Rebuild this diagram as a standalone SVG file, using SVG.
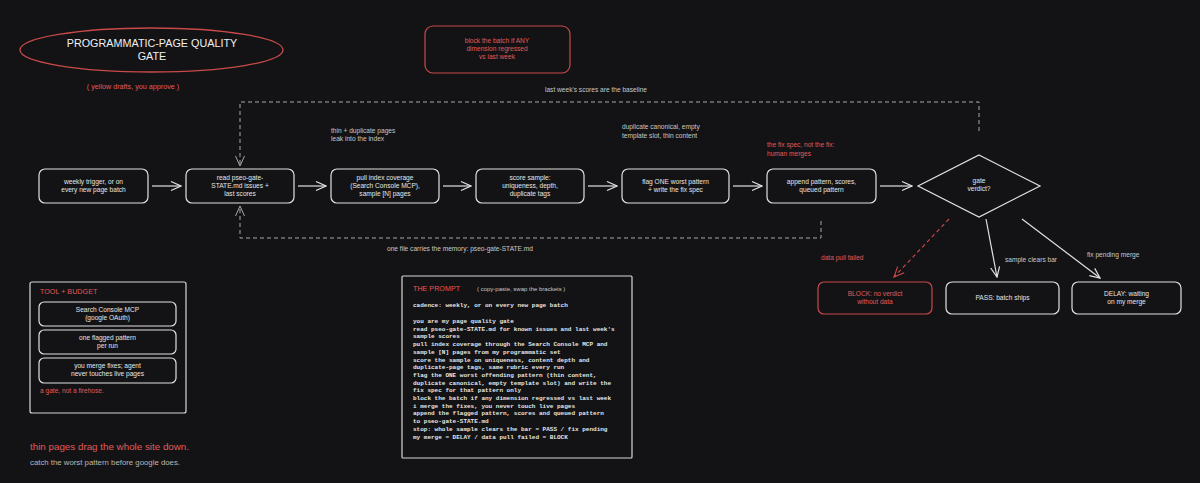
<svg xmlns="http://www.w3.org/2000/svg" width="1200" height="483" viewBox="0 0 1200 483">
<style>
.bg{fill:#131315}
.node{fill:#131315;stroke:#e2e2e2;stroke-width:1.2}
.rnode{fill:#131315;stroke:#c94a4a;stroke-width:1.2}
.t{font-family:"Liberation Sans",Arial,sans-serif;font-size:6.6px;fill:#e6e6e6;text-anchor:middle}
.rt{font-family:"Liberation Sans",Arial,sans-serif;font-size:6.6px;fill:#e05a5a;text-anchor:middle}
.ann{font-family:"Liberation Sans",Arial,sans-serif;font-size:6.6px;fill:#c8c8c8}
.rann{font-family:"Liberation Sans",Arial,sans-serif;font-size:6.6px;fill:#e05a5a}
.mono{font-family:"Liberation Mono","DejaVu Sans Mono",monospace;font-size:6px;fill:#e6e6e6;font-weight:bold}
.arr{fill:none;stroke:#e2e2e2;stroke-width:1.2;marker-end:url(#ah)}
.dash{fill:none;stroke:#a8a8a8;stroke-width:1;stroke-dasharray:4 3}
</style>
<defs>
<marker id="ah" viewBox="0 0 12 12" refX="11" refY="6" markerWidth="12" markerHeight="12" markerUnits="userSpaceOnUse" orient="auto">
<polyline points="1,1.5 11,6 1,10.5" fill="none" stroke="#e2e2e2" stroke-width="1.2"/>
</marker>
<marker id="ahg" viewBox="0 0 12 12" refX="11" refY="6" markerWidth="12" markerHeight="12" markerUnits="userSpaceOnUse" orient="auto">
<polyline points="1,1.5 11,6 1,10.5" fill="none" stroke="#a8a8a8" stroke-width="1"/>
</marker>
<marker id="ahr" viewBox="0 0 12 12" refX="11" refY="6" markerWidth="12" markerHeight="12" markerUnits="userSpaceOnUse" orient="auto">
<polyline points="1,1.5 11,6 1,10.5" fill="none" stroke="#c94a4a" stroke-width="1.1"/>
</marker>
</defs>
<rect class="bg" x="0" y="0" width="1200" height="483"/>

<g id="title">
<ellipse cx="151.5" cy="50" rx="131.5" ry="22" fill="none" stroke="#c94a4a" stroke-width="1.3"/>
<text x="152" y="47" style="font-family:'Liberation Sans',Arial,sans-serif;font-size:10.8px;fill:#f0f0f0;text-anchor:middle">PROGRAMMATIC-PAGE QUALITY</text>
<text x="152" y="60" style="font-family:'Liberation Sans',Arial,sans-serif;font-size:10.8px;fill:#f0f0f0;text-anchor:middle">GATE</text>
<text x="133" y="89" class="rt" style="font-size:7.2px">( yellow drafts, you approve )</text>
</g>

<g id="note-block">
<rect class="rnode" x="425" y="26" width="145" height="47" rx="8"/>
<text class="rt" x="497" y="43">block the batch if ANY</text>
<text class="rt" x="497" y="51">dimension regressed</text>
<text class="rt" x="497" y="59">vs last week</text>
</g>

<g id="connectors">
<path class="dash" d="M979,131 V102 H240 V166" marker-end="url(#ahg)"/>
<path class="dash" d="M821,221 V238 H240 V206" marker-end="url(#ahg)"/>
<line class="arr" x1="152" y1="186" x2="181" y2="186"/>
<line class="arr" x1="298" y1="186" x2="326" y2="186"/>
<line class="arr" x1="443" y1="186" x2="471" y2="186"/>
<line class="arr" x1="588" y1="186" x2="617" y2="186"/>
<line class="arr" x1="733" y1="186" x2="762" y2="186"/>
<line class="arr" x1="880" y1="186" x2="912" y2="186"/>
<line x1="949" y1="219" x2="894" y2="277" fill="none" stroke="#c94a4a" stroke-width="1.1" stroke-dasharray="4 3" marker-end="url(#ahr)"/>
<line class="arr" x1="986" y1="219" x2="997" y2="277"/>
<line class="arr" x1="1022" y1="219" x2="1100" y2="278"/>
</g>

<g id="labels">
<text class="ann" x="596" y="92" text-anchor="middle">last week's scores are the baseline</text>
<text class="ann" x="331" y="133">thin + duplicate pages</text>
<text class="ann" x="331" y="141">leak into the index</text>
<text class="ann" x="622" y="129">duplicate canonical, empty</text>
<text class="ann" x="622" y="138">template slot, thin content</text>
<text class="rann" x="767" y="147">the fix spec, not the fix:</text>
<text class="rann" x="767" y="156">human merges</text>
<text class="ann" x="460" y="251" text-anchor="middle">one file carries the memory: pseo-gate-STATE.md</text>
<text class="rann" x="821" y="260">data pull failed</text>
<text class="ann" x="1005" y="262">sample clears bar</text>
<text class="ann" x="1087" y="257">fix pending merge</text>
</g>

<g id="n-trigger">
<rect class="node" x="39" y="169" width="109" height="34" rx="6"/>
<text class="t" x="93.5" y="184">weekly trigger, or on</text>
<text class="t" x="93.5" y="192">every new page batch</text>
</g>
<g id="n-read">
<rect class="node" x="186" y="169" width="108" height="34" rx="6"/>
<text class="t" x="240" y="180">read pseo-gate-</text>
<text class="t" x="240" y="188">STATE.md issues +</text>
<text class="t" x="240" y="196">last scores</text>
</g>
<g id="n-pull">
<rect class="node" x="331" y="169" width="108" height="34" rx="6"/>
<text class="t" x="385" y="180">pull index coverage</text>
<text class="t" x="385" y="188">(Search Console MCP),</text>
<text class="t" x="385" y="196">sample [N] pages</text>
</g>
<g id="n-score">
<rect class="node" x="476" y="169" width="108" height="34" rx="6"/>
<text class="t" x="530" y="180">score sample:</text>
<text class="t" x="530" y="188">uniqueness, depth,</text>
<text class="t" x="530" y="196">duplicate tags</text>
</g>
<g id="n-flag">
<rect class="node" x="622" y="169" width="107" height="34" rx="6"/>
<text class="t" x="675.5" y="184">flag ONE worst pattern</text>
<text class="t" x="675.5" y="192">+ write the fix spec</text>
</g>
<g id="n-append">
<rect class="node" x="767" y="169" width="109" height="34" rx="6"/>
<text class="t" x="821.5" y="184">append pattern, scores,</text>
<text class="t" x="821.5" y="192">queued pattern</text>
</g>
<g id="n-verdict">
<polygon class="node" points="979,155 1040,186 979,217 918,186"/>
<text class="t" x="979" y="183">gate</text>
<text class="t" x="979" y="191">verdict?</text>
</g>
<g id="n-block">
<rect class="rnode" x="818" y="282" width="114" height="32" rx="6"/>
<text class="rt" x="875" y="296">BLOCK: no verdict</text>
<text class="rt" x="875" y="304">without data</text>
</g>
<g id="n-pass">
<rect class="node" x="946" y="282" width="113" height="32" rx="6"/>
<text class="t" x="1002.5" y="300">PASS: batch ships</text>
</g>
<g id="n-delay">
<rect class="node" x="1072" y="282" width="109" height="32" rx="6"/>
<text class="t" x="1126.5" y="296">DELAY: waiting</text>
<text class="t" x="1126.5" y="304">on my merge</text>
</g>

<g id="tool-budget">
<rect x="30" y="282" width="156" height="131" rx="2" fill="#131315" stroke="#d8d8d8" stroke-width="1.2"/>
<text class="rann" x="40" y="294" style="font-size:7.2px">TOOL + BUDGET</text>
<rect class="node" x="39" y="302" width="137" height="24" rx="5"/>
<text class="t" x="107.5" y="312">Search Console MCP</text>
<text class="t" x="107.5" y="320">(google OAuth)</text>
<rect class="node" x="39" y="330" width="137" height="24" rx="5"/>
<text class="t" x="107.5" y="340">one flagged pattern</text>
<text class="t" x="107.5" y="348">per run</text>
<rect class="node" x="39" y="358" width="137" height="25" rx="5"/>
<text class="t" x="107.5" y="368">you merge fixes; agent</text>
<text class="t" x="107.5" y="376">never touches live pages</text>
<text class="rann" x="40" y="393">a gate, not a firehose.</text>
</g>

<g id="footer">
<text x="30" y="450" style="font-family:'Liberation Sans',Arial,sans-serif;font-size:9.8px;fill:#e05a5a">thin pages drag the whole site down.</text>
<text x="30" y="465" style="font-family:'Liberation Sans',Arial,sans-serif;font-size:7.8px;fill:#b8b8b8">catch the worst pattern before google does.</text>
</g>

<g id="prompt">
<rect x="402" y="276" width="230" height="182" rx="1" fill="#131315" stroke="#d8d8d8" stroke-width="1.2"/>
<text class="rann" x="413" y="291" style="font-size:7.2px">THE PROMPT</text>
<text class="ann" x="477" y="291" style="font-size:6px">( copy-paste, swap the brackets )</text>
<text class="mono" x="413" y="307">cadence: weekly, or on every new page batch</text>
<text class="mono" x="413" y="323">you are my page quality gate</text>
<text class="mono" x="413" y="330.7">read pseo-gate-STATE.md for known issues and last week's</text>
<text class="mono" x="413" y="338.4">sample scores</text>
<text class="mono" x="413" y="346.1">pull index coverage through the Search Console MCP and</text>
<text class="mono" x="413" y="353.8">sample [N] pages from my programmatic set</text>
<text class="mono" x="413" y="361.5">score the sample on uniqueness, content depth and</text>
<text class="mono" x="413" y="369.2">duplicate-page tags, same rubric every run</text>
<text class="mono" x="413" y="376.9">flag the ONE worst offending pattern (thin content,</text>
<text class="mono" x="413" y="384.6">duplicate canonical, empty template slot) and write the</text>
<text class="mono" x="413" y="392.3">fix spec for that pattern only</text>
<text class="mono" x="413" y="400">block the batch if any dimension regressed vs last week</text>
<text class="mono" x="413" y="407.7">i merge the fixes, you never touch live pages</text>
<text class="mono" x="413" y="415.4">append the flagged pattern, scores and queued pattern</text>
<text class="mono" x="413" y="423.1">to pseo-gate-STATE.md</text>
<text class="mono" x="413" y="430.8">stop: whole sample clears the bar = PASS / fix pending</text>
<text class="mono" x="413" y="438.5">my merge = DELAY / data pull failed = BLOCK</text>
</g>
</svg>
